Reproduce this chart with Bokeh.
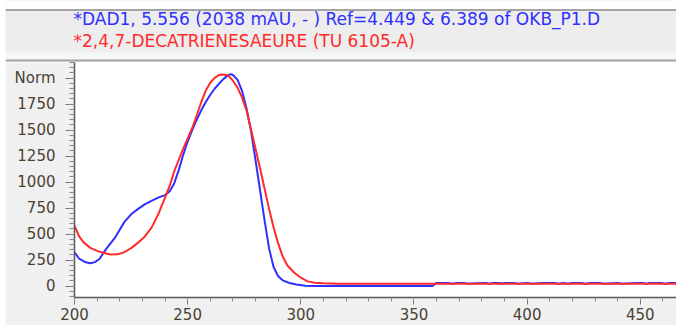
from bokeh.plotting import figure
from bokeh.layouts import column, row
from bokeh.models import Range1d, SingleIntervalTicker, Spacer
from bokeh.core.properties import value
from bokeh.embed import file_html
from bokeh.resources import INLINE

# --- spectrum data (wavelength in nm, normalised absorbance) ---
sample_wl = [200, 202, 205, 207, 209, 211, 214, 218, 222, 225, 228, 231, 234, 237,
             240, 242, 244, 246, 248, 250, 252, 254, 256, 258, 260, 262, 264, 266,
             268, 269, 270, 272, 274, 276, 278, 280, 282, 284, 286, 288, 290, 292,
             295, 298, 302, 306, 358, 360, 365, 367, 369, 372, 374, 380, 382, 383,
             385, 388, 389, 390, 394, 396, 400, 402, 407, 412, 414, 416, 418, 420,
             424, 426, 428, 432, 434, 440, 442, 448, 451, 453, 454, 459, 461, 463, 466]
sample_abs = [325, 265, 228, 219, 230, 260, 358, 469, 615, 690, 740, 785, 820, 850,
              875, 910, 985, 1110, 1260, 1390, 1500, 1600, 1690, 1770, 1840, 1900, 1950, 1995,
              2030, 2038, 2030, 1985, 1880, 1710, 1490, 1210, 920, 630, 360, 181, 95, 55,
              30, 15, 3, 0, 0, 30, 30, 22, 30, 30, 22, 30, 30, 22,
              30, 30, 22, 30, 30, 22, 30, 22, 30, 30, 22, 30, 22, 30,
              30, 22, 30, 30, 22, 30, 22, 30, 30, 22, 30, 30, 22, 30, 30]

library_wl = [200, 202, 204, 207, 210, 213, 216, 219, 222, 225, 228, 231, 234, 237,
              240, 242, 244, 246, 248, 250, 252, 254, 256, 258, 260, 262, 264, 265,
              266, 268, 270, 272, 274, 276, 278, 280, 282, 284, 286, 288, 290, 292,
              294, 297, 300, 303, 306, 310, 316, 466]
library_abs = [582, 480, 420, 367, 338, 318, 303, 305, 325, 365, 415, 475, 560, 690,
               850, 960, 1100, 1210, 1320, 1420, 1520, 1640, 1770, 1880, 1955, 2005, 2030, 2035,
               2032, 2024, 1975, 1910, 1815, 1690, 1505, 1320, 1130, 935, 740, 560, 410, 285,
               200, 130, 80, 45, 32, 26, 23, 22]

sample_title = "*DAD1, 5.556 (2038 mAU, - ) Ref=4.449 & 6.389 of OKB_P1.D"
library_title = "*2,4,7-DECATRIENESAEURE (TU 6105-A)"

BLUE = "#2f2fff"
RED = "#ff2b2b"
TICK_TEXT = "#4a4234"
PANEL = "#f0f0f0"
W = 671

# --- header strip with the two spectrum captions ---
head = figure(width=W, height=62, x_range=Range1d(0, W), y_range=Range1d(62, 0),
              x_axis_location=None, y_axis_location=None,
              toolbar_location=None, output_backend="svg", min_border=0,
              background_fill_color="#ededed", border_fill_color="white",
              outline_line_color=None)
head.grid.visible = False
head.quad(left=[0], right=[W], top=[0], bottom=[8.5], fill_color="white", line_color=None)
head.quad(left=[0], right=[W], top=[52], bottom=[59], fill_color="#f6f6f6", line_color=None)
head.segment(x0=[0, 0], x1=[W, W], y0=[9.5, 60], y1=[9.5, 60],
             line_color="#a4a4a4", line_width=2)
head.text(x=[68], y=[18.5], text=[sample_title], text_color=BLUE,
          text_font=value("DejaVu Sans"), text_font_size="17px",
          text_baseline="middle")
head.text(x=[68], y=[40], text=[library_title], text_color=RED,
          text_font=value("DejaVu Sans"), text_font_size="17px",
          text_baseline="middle")

# --- spectrum overlay ---
p = figure(width=W, height=263, x_range=Range1d(200, 466), y_range=Range1d(-110, 2150),
           toolbar_location=None, output_backend="svg",
           min_border_left=69, min_border_right=0, min_border_top=0, min_border_bottom=28,
           background_fill_color="white", border_fill_color=PANEL,
           outline_line_color=None)
p.grid.visible = False

p.line(sample_wl, sample_abs, line_color=BLUE, line_width=2)
p.line(library_wl, library_abs, line_color=RED, line_width=2)

p.xaxis.ticker = SingleIntervalTicker(interval=50, num_minor_ticks=5)
p.yaxis.ticker = SingleIntervalTicker(interval=250, num_minor_ticks=5)
p.yaxis.major_label_overrides = {2000: "Norm"}

for ax in (p.xaxis[0], p.yaxis[0]):
    ax.axis_line_color = "#555555"
    ax.axis_line_width = 1.5
    ax.major_tick_line_color = "#777777"
    ax.minor_tick_line_color = "#888888"
    ax.major_tick_in = 0
    ax.minor_tick_in = 0
    ax.major_label_text_color = TICK_TEXT
    ax.major_label_text_font = "DejaVu Sans"
    ax.major_label_text_font_size = "15px"

p.xaxis.major_tick_out = 7
p.xaxis.minor_tick_out = 4
p.xaxis.major_label_standoff = 3
p.yaxis.major_tick_out = 9
p.yaxis.minor_tick_out = 5
p.yaxis.major_label_standoff = 10

# header and chart sit in separate boxes so their frames are laid out independently
layout = column(row(Spacer(width=5, height=62), head),
                row(Spacer(width=5, height=263), p))

open("out.html", "w").write(file_html(layout, INLINE))
